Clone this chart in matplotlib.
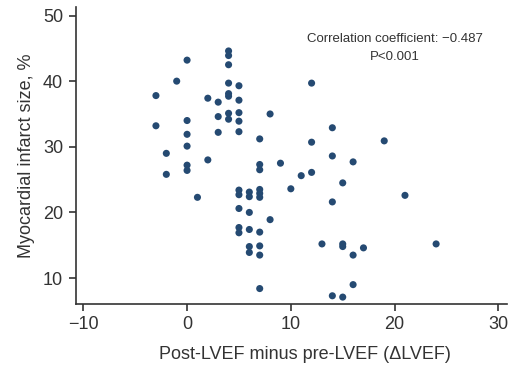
import matplotlib
matplotlib.use("Agg")
import matplotlib.pyplot as plt

plt.rcParams['font.family'] = ['Liberation Sans', 'DejaVu Sans']

delta_lvef = (
    [-3, -3] + [-2, -2] + [-1] + [0] * 6 + [1] + [2] * 2 + [3] * 3 + [4] * 8 + [5] * 10
    + [6] * 6 + [7] * 10 + [8] * 2 + [9] + [10] + [11] + [12] * 3 + [13] + [14] * 4
    + [15] * 4 + [16] * 3 + [17] + [19] + [21] + [24]
)
infarct_size = [
    37.8, 33.2,
    29.0, 25.8,
    40.0,
    43.2, 34.0, 31.9, 30.1, 27.2, 26.4,
    22.3,
    37.4, 28.0,
    36.8, 34.6, 32.2,
    44.6, 43.9, 42.5, 39.7, 38.1, 37.7, 35.1, 34.2,
    39.3, 37.1, 35.2, 33.9, 32.3, 23.4, 22.7, 20.6, 17.7, 16.9,
    23.1, 22.4, 20.0, 17.4, 14.8, 13.9,
    31.2, 27.3, 26.5, 23.5, 22.9, 22.3, 17.0, 14.9, 13.5, 8.4,
    35.0, 18.9,
    27.5,
    23.6,
    25.6,
    39.7, 30.7, 26.1,
    15.2,
    32.9, 28.6, 21.6, 7.3,
    24.5, 15.2, 14.8, 7.1,
    27.7, 13.5, 9.0,
    14.6,
    30.9,
    22.6,
    15.2,
]
x_ticks = [-10, 0, 10, 20, 30]
y_ticks = [10, 20, 30, 40, 50]
annotation = "Correlation coefficient: \u22120.487\nP<0.001"

fig = plt.figure(figsize=(5.12, 3.67), dpi=100)
ax = fig.add_axes([0.1475, 0.1717, 0.8421, 0.8093])
ax.scatter(delta_lvef, infarct_size, s=26, color='#254a72', edgecolors='none', zorder=3)

ax.set_xlim(-10.75, 30.8)
ax.set_ylim(6.05, 51.3)
ax.set_xticks(x_ticks)
ax.set_yticks(y_ticks)
ax.set_xticklabels([str(t).replace('-', '\u2212') for t in x_ticks])
for side in ['top', 'right']:
    ax.spines[side].set_visible(False)
for side in ['left', 'bottom']:
    ax.spines[side].set_color('#333333')
    ax.spines[side].set_linewidth(1.2)
ax.tick_params(axis='both', direction='out', length=5, width=1.2, color='#333333',
               labelsize=13, labelcolor='#333333', pad=4)
ax.set_xlabel("Post-LVEF minus pre-LVEF (\u0394LVEF)", fontsize=13, color='#333333')
ax.xaxis.set_label_coords(0.532, -0.14)
ax.set_ylabel("Myocardial infarct size, %", fontsize=13, color='#333333', labelpad=6)
ax.text(20.0, 45.1, annotation, ha='center', va='center', fontsize=9.5, color='#333333',
        linespacing=1.65)

fig.savefig("out.png", dpi=100)
